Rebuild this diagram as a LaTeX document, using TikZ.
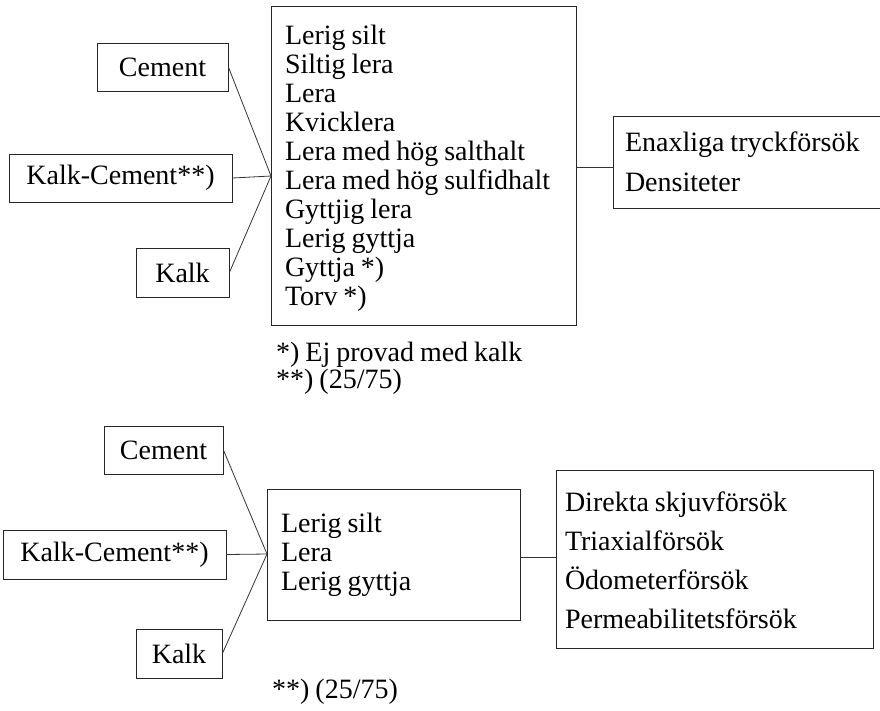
\documentclass[tikz,border=0pt]{standalone}
\usepackage{fontspec}
\setmainfont[WordSpace=0.85]{Liberation Serif}
\begin{document}
\begin{tikzpicture}[x=1pt,y=-1pt,
  every node/.style={font=\fontsize{28}{29}\selectfont},
  box/.style={draw=black!85, line width=0.8pt, inner sep=0pt, align=center},
  listbox/.style={draw=black!85, line width=0.8pt, inner ysep=0pt, align=left,
    execute at begin node={\spaceskip=0pt\xspaceskip=0pt\relax}},
  conn/.style={draw=black!80, line width=0.8pt},
  note/.style={anchor=west, inner sep=0pt}]
\useasboundingbox (0,0) rectangle (880,710);

% ---------- top diagram ----------
\node[box, minimum width=131pt, minimum height=48pt] (cem1) at (162.5,67) {Cement};
\node[box, minimum width=223pt, minimum height=48pt] (kc1) at (120.5,178) {Kalk-Cement**)};
\node[box, minimum width=93pt, minimum height=49pt] (kalk1) at (182.5,272.5) {Kalk};

\node[listbox, minimum width=305pt, minimum height=319pt, inner xsep=14pt, text width=277pt] (main1) at (423.5,165.5)
 {\rule{0pt}{24pt}Lerig silt\\Siltig lera\\Lera\\Kvicklera\\Lera med hög salthalt\\Lera med hög sulfidhalt\\Gyttjig lera\\Lerig gyttja\\Gyttja *)\\Torv *)};

\node[listbox, minimum width=269pt, minimum height=92pt, inner xsep=12pt, text width=245pt,
  font=\fontsize{28}{40}\selectfont] (right1) at (747.5,162)
 {Enaxliga tryckförsök\\Densiteter};

\coordinate (j1) at (271,176);
\draw[conn] (cem1.east) -- (j1);
\draw[conn] (kc1.east) -- (j1);
\draw[conn] (kalk1.east) -- (j1);
\coordinate (r1) at (613,167);
\draw[conn] (main1.east |- r1) -- (r1);

\node[note] (fn1) at (276,355) {*) Ej provad med kalk};
\node[note] (fn2) at (276,382) {**) (25/75)};

% ---------- bottom diagram ----------
\node[box, minimum width=119pt, minimum height=48pt] (cem2) at (163.5,450) {Cement};
\node[box, minimum width=223pt, minimum height=49pt] (kc2) at (114.5,554.5) {Kalk-Cement**)};
\node[box, minimum width=86pt, minimum height=49pt] (kalk2) at (179,653.5) {Kalk};

\node[listbox, minimum width=253pt, minimum height=131pt, inner xsep=14pt, text width=225pt] (main2) at (393.5,554.5)
 {Lerig silt\\Lera\\Lerig gyttja};

\node[listbox, minimum width=317pt, minimum height=178pt, inner xsep=9pt, text width=299pt,
  font=\fontsize{28}{39}\selectfont] (right2) at (714.5,559)
 {\rule{0pt}{22pt}Direkta skjuvförsök\\Triaxialförsök\\Ödometerförsök\\Permeabilitetsförsök};

\coordinate (j2) at (267,554);
\draw[conn] (cem2.east) -- (j2);
\draw[conn] (kc2.east) -- (j2);
\draw[conn] (kalk2.east) -- (j2);
\coordinate (r2) at (556,557);
\draw[conn] (main2.east |- r2) -- (r2);

\node[note] (fn3) at (272,692) {**) (25/75)};
\end{tikzpicture}
\end{document}
